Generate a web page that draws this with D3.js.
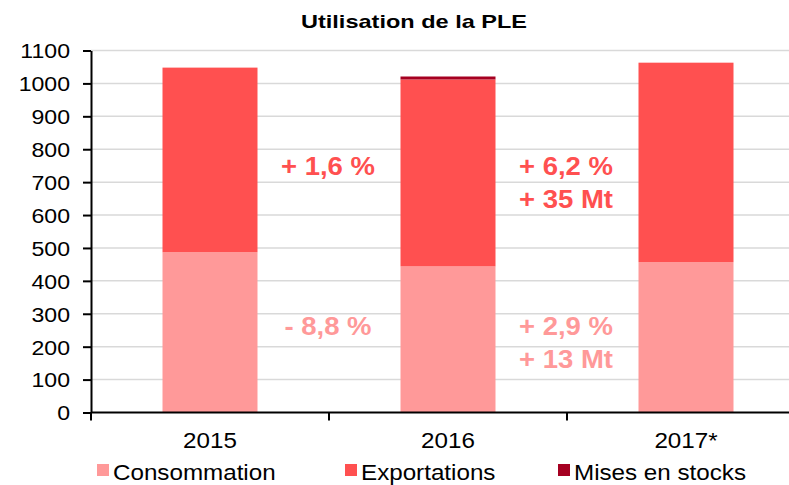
<!DOCTYPE html>
<html>
<head>
<meta charset="utf-8">
<script src="https://cdn.jsdelivr.net/npm/d3@7"></script>
<style>
  html, body { margin: 0; padding: 0; background: #fff; }
  svg { display: block; font-family: "Liberation Sans", Arial, sans-serif; }
</style>
</head>
<body>
<svg id="chart" width="789" height="485"></svg>
<script>
const categories = ["2015", "2016", "2017*"];
const consommation = [487, 444, 457];
const exportations = [561, 568, 606];
const misesEnStocks = [0, 9, 0];
const seriesNames = ["Consommation", "Exportations", "Mises en stocks"];
const yTicks = [0, 100, 200, 300, 400, 500, 600, 700, 800, 900, 1000, 1100];
const title = "Utilisation de la PLE";
const annotations = [
  { text: "+ 1,6 %", between: 0, level: 723, color: "exp" },
  { text: "+ 6,2 %", between: 1, level: 723, color: "exp" },
  { text: "+ 35 Mt", between: 1, level: 621, color: "exp" },
  { text: "- 8,8 %", between: 0, level: 235, color: "cons" },
  { text: "+ 2,9 %", between: 1, level: 235, color: "cons" },
  { text: "+ 13 Mt", between: 1, level: 135, color: "cons" }
];

const colors = { cons: "#FF9999", exp: "#FF5050", stock: "#A50021" };
const seriesColors = [colors.cons, colors.exp, colors.stock];
const sx = 1.1; // horizontal text stretch seen in the reference

const svg = d3.select("#chart");
const plotLeft = 91, bandW = 238, plotTop = 50.5, plotBottom = 412.5;

const x = d3.scaleBand().domain(categories).range([plotLeft, plotLeft + bandW * 3]).paddingInner(0.6).paddingOuter(0.3);
const y = d3.scaleLinear().domain([0, 1100]).range([plotBottom, plotTop]);

function place(sel, fx, fy) {
  sel.attr("x", 0).attr("y", 0)
    .attr("transform", (d, i) => `translate(${fx(d, i)},${fy(d, i)}) scale(${sx},1)`);
}

// gridlines
svg.append("g").selectAll("line").data(yTicks.filter(d => d > 0)).join("line")
  .attr("x1", plotLeft).attr("x2", 789)
  .attr("y1", d => y(d)).attr("y2", d => y(d))
  .attr("stroke", "#D9D9D9").attr("stroke-width", 1.5);

// stacked bars
const rows = categories.map((c, i) => ({ cat: c, Consommation: consommation[i], Exportations: exportations[i], "Mises en stocks": misesEnStocks[i] }));
const stack = d3.stack().keys(seriesNames)(rows);
const bw = 95;
svg.append("g").selectAll("g").data(stack).join("g")
  .attr("fill", (d, i) => seriesColors[i])
  .selectAll("rect").data(d => d).join("rect")
  .attr("x", d => x(d.data.cat) + x.bandwidth() / 2 - bw / 2)
  .attr("width", bw)
  .attr("y", d => y(d[1]))
  .attr("height", d => y(d[0]) - y(d[1]));

// y axis
const yAxis = d3.axisLeft(y).tickValues(yTicks).tickFormat(d3.format("d")).tickSize(8).tickSizeOuter(0);
const gy = svg.append("g").attr("transform", `translate(${plotLeft},0)`).call(yAxis);
gy.select(".domain").attr("stroke", "#000").attr("stroke-width", 2);
gy.selectAll(".tick line").attr("stroke", "#000").attr("stroke-width", 2);
gy.selectAll(".tick text").attr("font-size", 21).attr("fill", "#000")
  .attr("font-family", "'Liberation Sans', Arial, sans-serif")
  .attr("x", 0).attr("dy", "0.35em")
  .attr("transform", `translate(-21,0) scale(${sx},1)`);

// x axis
const xb = d3.scaleLinear().domain([0, 3]).range([plotLeft, plotLeft + bandW * 3]);
const gx = svg.append("g");
gx.append("line").attr("x1", plotLeft).attr("x2", xb(3)).attr("y1", plotBottom).attr("y2", plotBottom)
  .attr("stroke", "#000").attr("stroke-width", 2);
gx.selectAll(".xt").data([0, 1, 2, 3]).join("line").attr("class", "xt")
  .attr("x1", d => xb(d)).attr("x2", d => xb(d)).attr("y1", plotBottom).attr("y2", plotBottom + 8)
  .attr("stroke", "#000").attr("stroke-width", 2);
gx.selectAll("text").data(categories).join("text")
  .call(place, d => x(d) + x.bandwidth() / 2, () => 448)
  .attr("text-anchor", "middle").attr("font-size", 22).attr("fill", "#000")
  .text(d => d);

// title
svg.append("text").attr("x", 414).attr("y", 28).attr("text-anchor", "middle")
  .attr("font-size", 19).attr("font-weight", "bold").attr("fill", "#000")
  .attr("textLength", 226).attr("lengthAdjust", "spacingAndGlyphs")
  .text(title);

// annotations
svg.append("g").selectAll("text").data(annotations).join("text")
  .call(place, d => xb(d.between + 1) - 1, d => y(d.level))
  .attr("text-anchor", "middle").attr("font-size", 25).attr("font-weight", "bold")
  .attr("fill", d => colors[d.color])
  .text(d => d.text);

// legend
const legendX = [97, 345, 558];
const lg = svg.append("g").selectAll("g").data(seriesNames).join("g")
  .attr("transform", (d, i) => `translate(${legendX[i]},464)`);
lg.append("rect").attr("width", 12).attr("height", 12).attr("fill", (d, i) => seriesColors[i]);
lg.append("text").attr("transform", `translate(16,16) scale(${sx},1)`)
  .attr("font-size", 22).attr("fill", "#000").text(d => d);
</script>
</body>
</html>
